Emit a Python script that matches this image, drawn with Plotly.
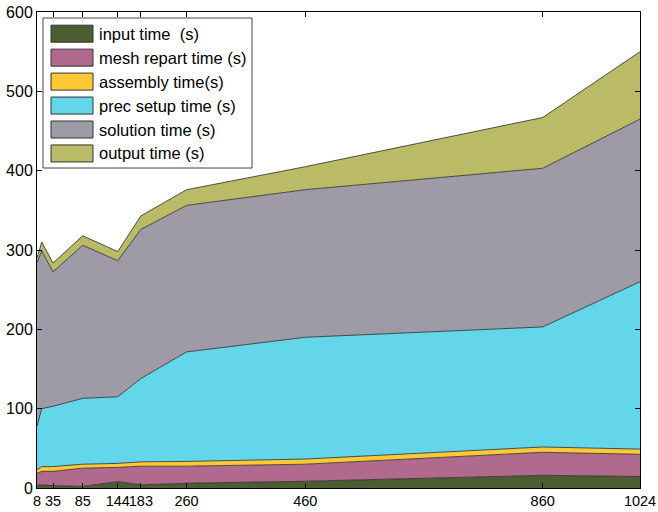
import plotly.graph_objects as go

# ---- data ----
procs = [8, 16, 35, 85, 144, 183, 260, 460, 860, 1024]
input_time = [3.5, 4, 3, 2, 8, 4, 6, 8.5, 16, 14.5]
mesh_repart_time = [15, 17, 18, 23, 18, 23.5, 21.5, 21.5, 29, 28]
assembly_time = [5, 6, 6, 5, 5, 5.5, 6, 6.5, 6.7, 6.5]
prec_setup_time = [54.5, 73, 76, 83, 84, 105, 138, 153.5, 151.3, 211]
solution_time = [206, 199, 169.5, 193, 171.5, 188, 184.7, 186, 200, 205]
output_time = [6, 11, 11, 12, 11.5, 17, 19.8, 29, 64, 85]

series_names = ["input time\u00a0 (s)", "mesh repart time (s)", "assembly time(s)",
                "prec setup time (s)", "solution time (s)", "output time (s)"]
series_values = [input_time, mesh_repart_time, assembly_time,
                 prec_setup_time, solution_time, output_time]
series_colors = ["#4c5d31", "#b06a8d", "#fbc937", "#63d6ea", "#9e9ba6", "#bbba66"]

x_tick_vals = [8, 35, 85, 144, 183, 260, 460, 860, 1024]
x_tick_text = ["8", "35", "85", "144", "183", "260", "460", "860", "1024"]
y_tick_vals = [0, 100, 200, 300, 400, 500, 600]

FONT = "Liberation Sans, Arial, Helvetica, sans-serif"

fig = go.Figure()
for name, vals, col in zip(series_names, series_values, series_colors):
    fig.add_trace(go.Scatter(
        x=procs, y=vals, name=name, stackgroup="one", mode="lines",
        line=dict(color="#2a2a2a", width=0.8), fillcolor=col, showlegend=False,
    ))

# ---- legend drawn as shapes + text (MATLAB style) ----
W, H = 658, 512
L, R, T, B = 37, 18, 12, 24
pw, ph = W - L - R, H - T - B

def px_x(p):
    return (p - L) / pw

def px_y(p):
    return (H - B - p) / ph

shapes = [dict(type="rect", xref="paper", yref="paper",
               x0=px_x(43), x1=px_x(252), y0=px_y(168), y1=px_y(18),
               line=dict(color="#444444", width=1), fillcolor="white", layer="above")]
annotations = []
row0, step = 33.7, 23.95
for i, (name, col) in enumerate(zip(series_names, series_colors)):
    cy = row0 + i * step
    shapes.append(dict(type="rect", xref="paper", yref="paper",
                       x0=px_x(51), x1=px_x(93), y0=px_y(cy + 8.5), y1=px_y(cy - 8.5),
                       line=dict(color="#333333", width=1), fillcolor=col, layer="above"))
    annotations.append(dict(xref="paper", yref="paper", x=px_x(97), y=px_y(cy),
                            text=name, showarrow=False, xanchor="left", yanchor="middle",
                            font=dict(family=FONT, size=16.5, color="black")))

fig.update_layout(
    template="none",
    width=W, height=H, autosize=False,
    margin=dict(l=L, r=R, t=T, b=B, pad=0, autoexpand=False),
    paper_bgcolor="white", plot_bgcolor="white",
    font=dict(family=FONT, size=16, color="black"),
    shapes=shapes, annotations=annotations, showlegend=False,
    xaxis=dict(range=[8, 1024], tickmode="array", tickvals=x_tick_vals, ticktext=x_tick_text,
               ticks="inside", ticklen=5, tickcolor="black", showline=True, linecolor="black",
               linewidth=1, mirror="ticks", showgrid=False, zeroline=False, tickangle=0,
               automargin=False,
               tickfont=dict(family=FONT, size=14.5, color="black")),
    yaxis=dict(range=[0, 600], tickmode="array", tickvals=y_tick_vals,
               ticks="inside", ticklen=5, tickcolor="black", showline=True, linecolor="black",
               linewidth=1, mirror="ticks", showgrid=False, zeroline=False,
               automargin=False,
               tickfont=dict(family=FONT, size=16, color="black")),
)

fig.write_html("out.html", config={"displayModeBar": False},
               post_script="document.body.style.margin='0';document.body.style.overflow='hidden';")
